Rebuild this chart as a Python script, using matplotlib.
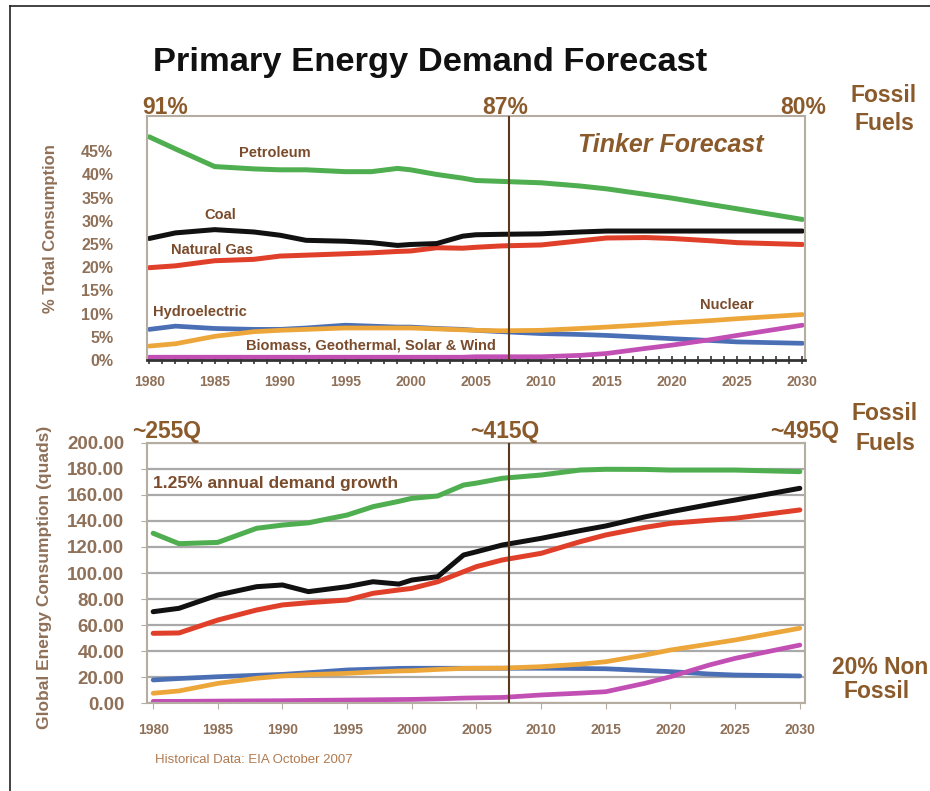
import numpy as np
import matplotlib
matplotlib.use("Agg")
import matplotlib.pyplot as plt
from matplotlib.lines import Line2D

plt.rcParams['font.family'] = ['Liberation Sans', 'DejaVu Sans']

# ---- data ----
years = [1980, 1982, 1985, 1988, 1990, 1992, 1995, 1997, 1999, 2000, 2002,
         2004, 2005, 2007, 2010, 2013, 2015, 2018, 2020, 2023, 2025, 2030]

# share of total consumption (%)
pct_petroleum = [48.1, 45.5, 41.7, 41.2, 41.0, 41.0, 40.6, 40.6, 41.3, 41.0, 40.0,
                 39.2, 38.7, 38.5, 38.2, 37.5, 36.9, 35.7, 34.9, 33.5, 32.6, 30.3]
pct_coal = [26.2, 27.4, 28.1, 27.6, 26.9, 25.8, 25.6, 25.3, 24.7, 24.9, 25.1,
            26.7, 27.0, 27.1, 27.2, 27.6, 27.8, 27.8, 27.8, 27.8, 27.8, 27.8]
pct_gas = [19.9, 20.3, 21.4, 21.7, 22.4, 22.6, 22.9, 23.1, 23.4, 23.5, 24.2,
           24.1, 24.3, 24.6, 24.8, 25.7, 26.3, 26.4, 26.2, 25.7, 25.3, 24.9]
pct_hydro = [6.6, 7.3, 6.8, 6.6, 6.6, 6.9, 7.5, 7.3, 7.1, 7.1, 6.8,
             6.6, 6.4, 6.1, 5.7, 5.5, 5.3, 4.9, 4.6, 4.2, 3.9, 3.6]
pct_nuclear = [3.0, 3.5, 5.1, 6.1, 6.4, 6.6, 6.9, 6.9, 6.9, 6.9, 6.7,
               6.5, 6.4, 6.3, 6.4, 6.8, 7.1, 7.6, 8.0, 8.5, 8.9, 9.8]
pct_renew = [0.6, 0.6, 0.6, 0.6, 0.6, 0.6, 0.6, 0.6, 0.6, 0.6, 0.6,
             0.6, 0.7, 0.7, 0.7, 1.0, 1.4, 2.5, 3.2, 4.4, 5.3, 7.5]

# consumption in quads
q_petroleum = [130.5, 122.5, 123.5, 134.3, 136.8, 138.5, 144.5, 150.9, 155.0, 157.3, 159.1,
               167.5, 169.0, 172.7, 175.2, 179.0, 179.6, 179.5, 179.0, 179.0, 179.0, 177.8]
q_coal = [70.3, 72.9, 83.1, 89.5, 90.8, 85.7, 89.5, 93.3, 91.5, 94.6, 97.2,
          113.8, 116.3, 121.5, 126.6, 132.5, 136.1, 143.0, 147.0, 152.5, 156.0, 165.0]
q_gas = [53.7, 54.0, 63.9, 71.6, 75.5, 77.2, 79.3, 84.4, 87.0, 88.2, 93.3,
         101.0, 104.9, 110.0, 115.1, 124.0, 129.2, 135.0, 138.1, 140.5, 142.0, 148.4]
q_hydro = [17.9, 19.0, 20.4, 21.5, 22.2, 23.5, 25.6, 26.2, 26.8, 26.9, 26.9,
           26.9, 26.9, 26.9, 26.9, 26.7, 26.5, 25.2, 24.3, 22.5, 21.7, 21.0]
q_nuclear = [7.7, 9.5, 15.3, 19.2, 21.0, 22.0, 23.0, 24.0, 24.8, 25.0, 26.0,
             26.8, 26.9, 27.0, 28.1, 30.0, 31.9, 37.0, 40.9, 45.5, 48.6, 57.6]
q_renew = [1.5, 1.5, 1.7, 1.9, 2.0, 2.2, 2.5, 2.7, 2.9, 3.0, 3.4,
           4.0, 4.2, 4.5, 6.4, 7.8, 8.9, 15.3, 20.4, 29.4, 34.5, 44.7]

forecast_year = 2007.5

c_pet = '#4fae4f'
c_coal = '#111111'
c_gas = '#e0402a'
c_hydro = '#4a6fb5'
c_nuc = '#eca63a'
c_ren = '#c24fb4'
brown = '#8b5a2b'
lbl_brown = '#7a4c2c'
tick_brown = '#8f7058'
frame_grey = '#b5aca2'

W, H = 930, 791
fig = plt.figure(figsize=(W / 100, H / 100), dpi=100)
fig.patch.set_facecolor('white')


def px(x, y):
    return x / W, 1 - y / H


# partial outer frame (left and top)
fig.add_artist(Line2D([10 / W, 10 / W], [0, 1 - 6 / H], transform=fig.transFigure, color='#222222', lw=1.2))
fig.add_artist(Line2D([10 / W, 1], [1 - 6 / H, 1 - 6 / H], transform=fig.transFigure, color='#222222', lw=1.2))

# ---- top: share of consumption ----
ax1 = fig.add_axes([146.7 / W, 1 - 360 / H, (805 - 146.7) / W, (360 - 116) / H])
ax1.plot(years, pct_petroleum, color=c_pet, lw=3.6, clip_on=False, solid_capstyle='round')
ax1.plot(years, pct_gas, color=c_gas, lw=3.6, clip_on=False, solid_capstyle='round')
ax1.plot(years, pct_coal, color=c_coal, lw=3.6, clip_on=False, solid_capstyle='round')
ax1.plot(years, pct_hydro, color=c_hydro, lw=3.4, clip_on=False, solid_capstyle='round')
ax1.plot(years, pct_nuclear, color=c_nuc, lw=3.4, clip_on=False, solid_capstyle='round')
ax1.plot(years, pct_renew, color=c_ren, lw=3.4, clip_on=False, solid_capstyle='round')
ax1.axvline(forecast_year, color='#5a3a1f', lw=1.5, zorder=5)
ax1.set_xlim(1979.8, 2030.2)
ax1.set_ylim(0, 52.6)
ax1.set_yticks(np.arange(0, 50, 5))
ax1.set_yticklabels(['%d%%' % v for v in range(0, 50, 5)])
ax1.set_xticks(np.arange(1980, 2031, 5))
ax1.set_xticks(np.arange(1980, 2031, 1), minor=True)
ax1.tick_params(axis='y', length=0, pad=24, labelsize=11.5, labelcolor=tick_brown)
ax1.tick_params(axis='x', which='both', direction='inout', length=6, width=1.2,
                color='#333333', pad=8, labelsize=10, labelcolor=tick_brown)
for lab in ax1.get_xticklabels() + ax1.get_yticklabels():
    lab.set_fontweight('bold')
for s in ['top', 'right', 'left']:
    ax1.spines[s].set_color(frame_grey)
    ax1.spines[s].set_linewidth(1.5)
ax1.spines['bottom'].set_color('#333333')
ax1.spines['bottom'].set_linewidth(2)

tkw = dict(fontsize=10.5, fontweight='bold', color=lbl_brown, ha='center', va='center')
ax1.text(1989.6, 44.6, 'Petroleum', **tkw)
ax1.text(1985.4, 31.2, 'Coal', **tkw)
ax1.text(1984.8, 23.7, 'Natural Gas', **tkw)
ax1.text(1983.9, 10.4, 'Hydroelectric', **tkw)
ax1.text(1997.0, 3.2, 'Biomass, Geothermal, Solar & Wind', **tkw)
ax1.text(2024.2, 11.9, 'Nuclear', **tkw)
ax1.text(2019.9, 46.3, 'Tinker Forecast', fontsize=18, fontweight='bold', fontstyle='italic',
         color=brown, ha='center', va='center')

# ---- bottom: consumption in quads ----
ax2 = fig.add_axes([146.7 / W, 1 - 703.3 / H, (805 - 146.7) / W, (703.3 - 442.7) / H])
ax2.set_yticks(np.arange(0, 201, 20))
ax2.yaxis.grid(True, color='#a9a9a9', lw=1.6)
ax2.set_axisbelow(True)
ax2.plot(years, q_petroleum, color=c_pet, lw=3.6, clip_on=False, solid_capstyle='round')
ax2.plot(years, q_gas, color=c_gas, lw=3.6, clip_on=False, solid_capstyle='round')
ax2.plot(years, q_coal, color=c_coal, lw=3.6, clip_on=False, solid_capstyle='round')
ax2.plot(years, q_hydro, color=c_hydro, lw=3.4, clip_on=False, solid_capstyle='round')
ax2.plot(years, q_nuclear, color=c_nuc, lw=3.4, clip_on=False, solid_capstyle='round')
ax2.plot(years, q_renew, color=c_ren, lw=3.4, clip_on=False, solid_capstyle='round')
ax2.axvline(forecast_year, color='#5a3a1f', lw=1.5, zorder=5)
ax2.set_xlim(1979.5, 2030.4)
ax2.set_ylim(0, 200)
ax2.set_yticklabels(['%.2f' % v for v in range(0, 201, 20)])
ax2.set_xticks(np.arange(1980, 2031, 5))
ax2.tick_params(axis='y', length=4, color=frame_grey, pad=12, labelsize=13.5, labelcolor=tick_brown)
ax2.tick_params(axis='x', direction='out', length=4, color=frame_grey, pad=10,
                labelsize=10, labelcolor=tick_brown)
for lab in ax2.get_xticklabels() + ax2.get_yticklabels():
    lab.set_fontweight('bold')
for s in ax2.spines.values():
    s.set_color(frame_grey)
    s.set_linewidth(1.5)
ax2.text(1980.0, 169, '1.25% annual demand growth', fontsize=12.5, fontweight='bold',
         color=lbl_brown, ha='left', va='center')

# ---- figure texts ----
fig.text(*px(430, 62), 'Primary Energy Demand Forecast', fontsize=24.8, fontweight='bold',
         color='#111111', ha='center', va='center')

big = dict(fontsize=16.5, fontweight='bold', color=brown, ha='center', va='center')
fig.text(*px(165, 108), '91%', **big)
fig.text(*px(505, 108), '87%', **big)
fig.text(*px(803, 108), '80%', **big)
fig.text(*px(884, 96), 'Fossil', **big)
fig.text(*px(884, 123), 'Fuels', **big)

fig.text(*px(167, 431), '~255Q', **big)
fig.text(*px(505, 431), '~415Q', **big)
fig.text(*px(805, 431), '~495Q', **big)
fig.text(*px(885, 414), 'Fossil', **big)
fig.text(*px(885, 443), 'Fuels', **big)
fig.text(*px(880, 667), '20% Non', **big)
fig.text(*px(877, 691), 'Fossil', **big)

fig.text(*px(50, 229), '% Total Consumption', rotation=90, fontsize=12, fontweight='bold',
         color=tick_brown, ha='center', va='center')
fig.text(*px(44, 577), 'Global Energy Consumption (quads)', rotation=90, fontsize=12.5,
         fontweight='bold', color=tick_brown, ha='center', va='center')
fig.text(*px(155, 760), 'Historical Data: EIA October 2007', fontsize=9.5,
         color='#b07a50', ha='left', va='center')

fig.savefig('out.png', dpi=100, facecolor='white')
